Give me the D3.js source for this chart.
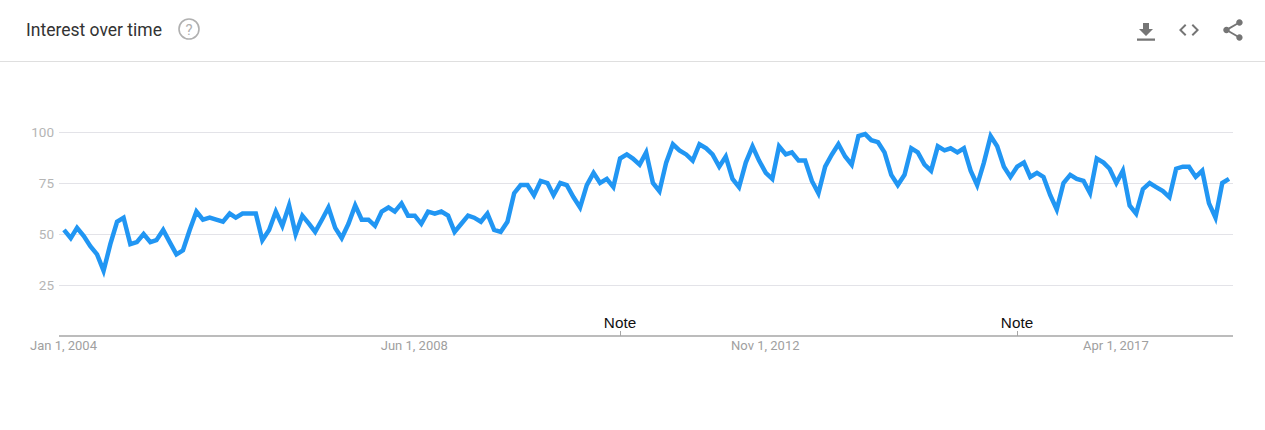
<!DOCTYPE html>
<html><head><meta charset="utf-8">
<script src="https://cdn.jsdelivr.net/npm/d3@7"></script>
<style>html,body{margin:0;padding:0;background:#fff}svg{display:block}</style>
</head><body><svg id="c" width="1265" height="430"></svg>
<script>
const startMonth = "2004-01-01";
const endMonth = "2018-09-01";
const interest = [52,48,53,49,44,40,32,45,56,58,45,46,50,46,47,52,46,40,42,52,61,57,58,57,56,60,58,60,60,60,47,52,61,54,64,50,59,55,51,57,
63,53,48,55,64,57,57,54,61,63,61,65,59,59,55,61,60,61,59,51,55,59,58,56,60,52,51,56,70,74,74,69,76,75,69,75,74,68,63,74,80,75,77,73,87,
89,87,84,90,75,71,85,94,91,89,86,94,92,89,83,88,77,73,85,93,86,80,77,93,89,90,86,86,76,70,83,89,94,88,84,98,99,96,95,90,79,74,79,92,90,
84,81,93,91,92,90,92,81,74,85,98,93,83,78,83,85,78,80,78,69,62,75,79,77,76,70,87,85,82,75,81,64,60,72,75,73,71,68,82,83,83,78,81,65,58,75,77];
const yTicks = [25,50,75,100];
const xTickDates = ["2004-01-01","2008-06-01","2012-11-01","2017-04-01"];
const xTickLabels = ["Jan 1, 2004","Jun 1, 2008","Nov 1, 2012","Apr 1, 2017"];
const noteDates = ["2011-01-01","2016-01-01"];
const noteLabel = "Note";
const title = "Interest over time";

const dates = d3.utcMonth.range(new Date(startMonth), d3.utcMonth.offset(new Date(endMonth),1));
const points = dates.map((d,i)=>({d,v:interest[i]}));
const svg = d3.select("#c");
const x = d3.scaleUtc().domain([new Date(startMonth),new Date(endMonth)]).range([64,1229]);
const y = d3.scaleLinear().domain([0,100]).range([336,132]);
const font = "Roboto, sans-serif";

// header
svg.append("line").attr("x1",0).attr("x2",1265).attr("y1",61.5).attr("y2",61.5).attr("stroke","#dfdfdf");
svg.append("text").attr("x",26).attr("y",35.5).attr("font-family",font).attr("font-size",17.5).attr("fill","#333").text(title);
const help = svg.append("g").attr("transform","translate(189,29)");
help.append("circle").attr("r",10).attr("fill","none").attr("stroke","#b0b0b0").attr("stroke-width",1.6);
help.append("text").attr("y",5.5).attr("text-anchor","middle").attr("font-family",font).attr("font-size",15).attr("fill","#b0b0b0").text("?");
// icons
const ic = svg.append("g").attr("fill","#757575");
ic.append("path").attr("transform","translate(1134,20)").attr("d","M19 9h-4V3H9v6H5l7 7 7-7zM3 18.5v2.2h18v-2.2H3z");
ic.append("path").attr("transform","translate(1177,18)").attr("d","M9.4 16.6 4.8 12l4.6-4.6L8 6l-6 6 6 6 1.4-1.4zm5.2 0 4.6-4.6-4.6-4.6L16 6l6 6-6 6-1.4-1.4z");
ic.append("path").attr("transform","translate(1220,17) scale(1.08)").attr("d","M18 16.08c-.76 0-1.44.3-1.96.77L8.91 12.7c.05-.23.09-.46.09-.7s-.04-.47-.09-.7l7.05-4.11c.54.5 1.25.81 2.04.81 1.66 0 3-1.34 3-3s-1.34-3-3-3-3 1.34-3 3c0 .24.04.47.09.7L8.04 9.81C7.5 9.31 6.79 9 6 9c-1.66 0-3 1.34-3 3s1.34 3 3 3c.79 0 1.5-.31 2.04-.81l7.12 4.16c-.05.21-.08.43-.08.65 0 1.61 1.31 2.92 2.92 2.92s2.92-1.31 2.92-2.92-1.31-2.92-2.92-2.92z");

// y grid and labels
const yAxis = d3.axisLeft(y).tickValues(yTicks).tickSize(-1174).tickPadding(5);
const gy = svg.append("g").attr("transform","translate(59,0)").call(yAxis);
gy.select(".domain").remove();
gy.selectAll("line").attr("stroke","#e3e3e8");
gy.selectAll("text").attr("font-family",font).attr("font-size",13.5).attr("fill","#b5b5b5");

// x axis
const xAxis = d3.axisBottom(x).tickValues(xTickDates.map(s=>new Date(s))).tickFormat((d,i)=>xTickLabels[i]).tickSize(0).tickPadding(5);
const gx = svg.append("g").attr("transform","translate(-1,336)").call(xAxis);
gx.select(".domain").remove();
gx.selectAll("text").attr("font-family",font).attr("font-size",13).attr("fill","#a0a0a0");
svg.append("line").attr("x1",59).attr("x2",1233).attr("y1",336).attr("y2",336).attr("stroke","#a6a6a6").attr("stroke-width",1.3);

// notes
const notes = svg.append("g").selectAll("g").data(noteDates).join("g")
  .attr("transform",d=>`translate(${Math.round(x(new Date(d)))},0)`);
notes.append("line").attr("x1",.5).attr("x2",.5).attr("y1",331).attr("y2",336).attr("stroke","#a6a6a6");
notes.append("text").attr("y",328).attr("text-anchor","middle").attr("font-family","Liberation Sans, Arial, sans-serif").attr("font-size",15.3).attr("fill","#111").text(noteLabel);

// series
svg.append("path").datum(points)
  .attr("d",d3.line().x(p=>x(p.d)).y(p=>y(p.v)))
  .attr("fill","none").attr("stroke","#2196f3").attr("stroke-width",4.5).attr("stroke-linejoin","miter").attr("stroke-miterlimit",4);
</script></body></html>
